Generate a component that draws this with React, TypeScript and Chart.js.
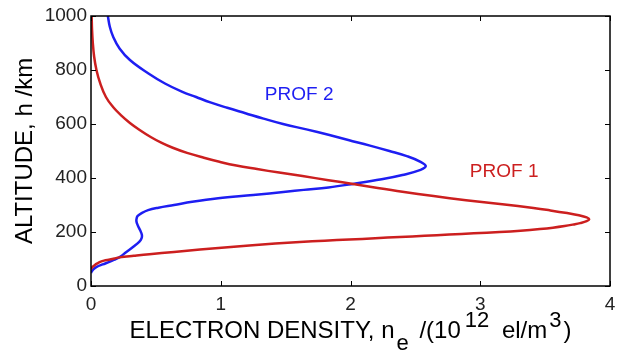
import React, { useEffect, useRef } from "react";
import { Chart, registerables } from "chart.js";

Chart.register(...registerables);

// PROF 1 (red): altitude (km) and electron density (1e12 el/m^3)
const prof1Alt = [62, 67, 72, 78, 84, 89, 94, 98, 102, 106, 112, 118, 126, 135, 143, 150, 157, 163, 168, 172, 177, 181.5, 186, 190.7, 195, 200, 205, 211, 216, 222, 228, 233, 240, 247, 254, 262, 270, 280, 289, 303, 318, 333, 349, 363, 378, 392, 407, 420, 433, 446, 460, 475, 493, 512, 530, 552, 578, 604, 633, 663, 700, 752, 800, 850, 900, 950, 1000];
const prof1Ne = [0.0, 0.005, 0.015, 0.03, 0.05, 0.07, 0.1, 0.146, 0.18, 0.22, 0.33, 0.45, 0.64, 0.84, 1.03, 1.22, 1.42, 1.61, 1.8, 1.99, 2.19, 2.38, 2.57, 2.76, 2.95, 3.15, 3.31, 3.46, 3.56, 3.65, 3.72, 3.77, 3.82, 3.84, 3.82, 3.76, 3.67, 3.54, 3.41, 3.17, 2.89, 2.64, 2.4, 2.21, 2.02, 1.83, 1.63, 1.45, 1.28, 1.12, 0.99, 0.87, 0.74, 0.63, 0.545, 0.46, 0.375, 0.3, 0.23, 0.17, 0.115, 0.07, 0.042, 0.024, 0.014, 0.008, 0.005];

// PROF 2 (blue)
const prof2Alt = [48, 53, 60, 71, 80, 90, 100, 108, 125, 145, 165, 177, 190, 207, 225, 240, 251, 260, 270, 281, 290, 300, 312, 325, 337, 349, 356, 365, 378, 395, 411, 430, 444, 460, 480, 500, 520, 540, 560, 580, 600, 620, 640, 660, 680, 700, 720, 750, 788, 837, 880, 924, 960, 1000];
const prof2Ne = [0.0, 0.005, 0.015, 0.044, 0.09, 0.146, 0.19, 0.224, 0.27, 0.326, 0.375, 0.39, 0.392, 0.378, 0.36, 0.35, 0.352, 0.36, 0.39, 0.44, 0.52, 0.64, 0.78, 0.98, 1.25, 1.5, 1.64, 1.83, 2.02, 2.24, 2.4, 2.54, 2.58, 2.54, 2.44, 2.3, 2.15, 1.99, 1.83, 1.66, 1.48, 1.33, 1.19, 1.05, 0.92, 0.81, 0.7, 0.57, 0.44, 0.3, 0.22, 0.17, 0.145, 0.13];

const xTicks = [0, 1, 2, 3, 4];
const yTicks = [0, 200, 400, 600, 800, 1000];

const seriesNames = ["PROF 1", "PROF 2"];
const seriesColors = ["#cc1f1f", "#1e1ef2"];
// label anchor positions in data coordinates [density, altitude]
const labelPos = [
  [2.92, 422],
  [1.34, 707],
];

const FONT = "'Liberation Sans', Arial, Helvetica, sans-serif";

const framePlugin = {
  id: "frame",
  afterDraw(chart: any) {
    const { ctx, chartArea: a, scales } = chart;
    const xs = scales.x;
    const ys = scales.y;
    ctx.save();
    ctx.strokeStyle = "#000";
    ctx.lineWidth = 1.5;
    ctx.strokeRect(a.left, a.top, a.right - a.left, a.bottom - a.top);
    const L = 5;
    ctx.lineWidth = 1;
    ctx.beginPath();
    for (const v of xTicks) {
      const px = Math.round(xs.getPixelForValue(v)) + 0.5;
      ctx.moveTo(px, a.bottom);
      ctx.lineTo(px, a.bottom - L);
      ctx.moveTo(px, a.top);
      ctx.lineTo(px, a.top + L);
    }
    for (const v of yTicks) {
      const py = Math.round(ys.getPixelForValue(v)) + 0.5;
      ctx.moveTo(a.left, py);
      ctx.lineTo(a.left + L, py);
      ctx.moveTo(a.right, py);
      ctx.lineTo(a.right - L, py);
    }
    ctx.stroke();

    // series labels
    ctx.font = `19px ${FONT}`;
    ctx.textBaseline = "middle";
    ctx.textAlign = "left";
    seriesNames.forEach((name, i) => {
      ctx.fillStyle = seriesColors[i];
      ctx.fillText(name, xs.getPixelForValue(labelPos[i][0]), ys.getPixelForValue(labelPos[i][1]));
    });

    // x axis title with sub/superscripts: [text, font, baseline shift, gap after]
    const big = `24px ${FONT}`;
    const small = `22px ${FONT}`;
    const parts: [string, string, number, number][] = [
      ["ELECTRON DENSITY, n", big, 0, 2],
      ["e", small, 12, 4],
      [" /(10", big, 0, 4],
      ["12", small, -11, 6],
      [" el/m", big, 0, 2],
      ["3", small, -11, 2],
      [")", big, 0, 0],
    ];
    let total = 0;
    const widths = parts.map(([t, f, , g]) => {
      ctx.font = f;
      const w = ctx.measureText(t).width + g;
      total += w;
      return w;
    });
    let x = (a.left + a.right) / 2 - total / 2;
    const base = 338;
    ctx.fillStyle = "#000";
    ctx.textBaseline = "alphabetic";
    parts.forEach(([t, f, dy], i) => {
      ctx.font = f;
      ctx.fillText(t, x, base + dy);
      x += widths[i];
    });
    ctx.restore();
  },
};

export default function App() {
  const ref = useRef<HTMLCanvasElement | null>(null);
  useEffect(() => {
    if (!ref.current) return;
    const mk = (alt: number[], ne: number[]) => alt.map((h, i) => ({ x: ne[i], y: h }));
    const chart = new Chart(ref.current, {
      type: "scatter",
      data: {
        datasets: [
          {
            label: seriesNames[0],
            data: mk(prof1Alt, prof1Ne),
            showLine: true,
            borderColor: seriesColors[0],
            borderWidth: 2.5,
            pointRadius: 0,
            tension: 0.4,
          },
          {
            label: seriesNames[1],
            data: mk(prof2Alt, prof2Ne),
            showLine: true,
            borderColor: seriesColors[1],
            borderWidth: 2.5,
            pointRadius: 0,
            tension: 0.4,
          },
        ],
      },
      options: {
        animation: false,
        responsive: true,
        maintainAspectRatio: false,
        layout: { padding: { top: 16, right: 8, left: 0, bottom: 0 } },
        plugins: { legend: { display: false }, tooltip: { enabled: false } },
        scales: {
          x: {
            type: "linear",
            min: 0,
            max: 4,
            grid: { display: false, drawTicks: false },
            border: { display: false },
            ticks: {
              stepSize: 1,
              padding: 7,
              color: "#222",
              font: { family: FONT, size: 19 },
              callback: (v: any) => String(v),
            },
            afterFit: (s: any) => {
              s.height = 65;
              s.paddingRight = 0;
              s.paddingLeft = 0;
            },
          },
          y: {
            type: "linear",
            min: 0,
            max: 1000,
            grid: { display: false, drawTicks: false },
            border: { display: false },
            ticks: {
              stepSize: 200,
              padding: 4,
              color: "#222",
              font: { family: FONT, size: 19 },
              callback: (v: any) => String(v),
            },
            title: {
              display: true,
              text: "ALTITUDE, h /km",
              color: "#000",
              font: { family: FONT, size: 24 },
              padding: { top: 11, bottom: 0 },
            },
            afterFit: (s: any) => {
              s.width = 91;
            },
          },
        },
      },
      plugins: [framePlugin],
    });
    return () => chart.destroy();
  }, []);
  return (
    <div style={{ position: "fixed", left: 0, top: 0, width: 618, height: 351, background: "#fff" }}>
      <canvas ref={ref} />
    </div>
  );
}
